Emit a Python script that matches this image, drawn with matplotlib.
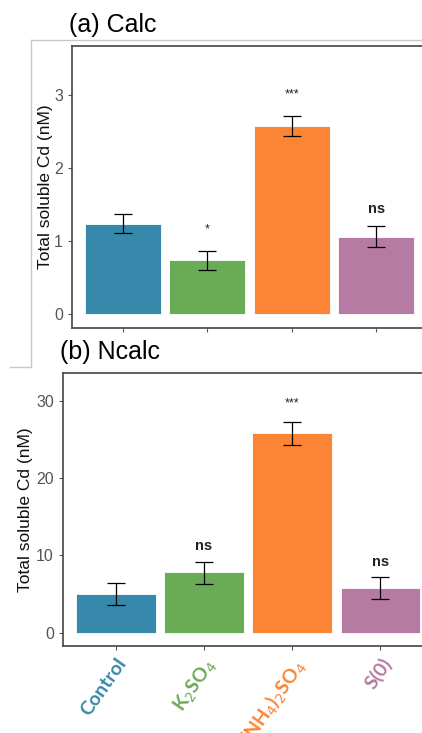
import matplotlib.pyplot as plt
from matplotlib.lines import Line2D
import numpy as np

plt.rcParams['font.family'] = ['Liberation Sans', 'DejaVu Sans']

# data
treatments = ['Control', 'K$_2$SO$_4$', '(NH$_4$)$_2$SO$_4$', 'S(0)']
colors = ['#3789ab', '#6aab56', '#fb8534', '#b57ba3']

calc_mean = [1.24, 0.74, 2.58, 1.06]
calc_lo = [1.11, 0.60, 2.44, 0.92]
calc_hi = [1.37, 0.87, 2.71, 1.21]
calc_sig = ['', '*', '***', 'ns']
calc_sig_y = [None, 1.16, 3.01, 1.44]

ncalc_mean = [5.0, 7.8, 25.8, 5.8]
ncalc_lo = [3.55, 6.3, 24.3, 4.3]
ncalc_hi = [6.4, 9.1, 27.2, 7.2]
ncalc_sig = ['', 'ns', '***', 'ns']
ncalc_sig_y = [None, 11.2, 29.7, 9.2]

fig = plt.figure(figsize=(4.22, 7.33), dpi=100)

# faint frame lines of the pasted panel
gray = '#c8c8c8'
fig.add_artist(Line2D([31/422, 1], [1 - 40/733, 1 - 40/733], color=gray, lw=1))
fig.add_artist(Line2D([31/422, 31/422], [1 - 40/733, 1 - 367/733], color=gray, lw=1))
fig.add_artist(Line2D([10/422, 31/422], [1 - 367/733, 1 - 367/733], color=gray, lw=1))


def panel(ax, mean, lo, hi, sig, sig_y, ylim, yticks, title, title_x, title_y, pad):
    x = np.arange(1, len(mean) + 1)
    ax.bar(x, mean, width=0.9, color=colors, edgecolor='white', linewidth=0.6, zorder=2)
    err = [np.array(mean) - np.array(lo), np.array(hi) - np.array(mean)]
    ax.errorbar(x, mean, yerr=err, fmt='none', ecolor='black', elinewidth=0.9,
                capsize=6.5, capthick=0.9, zorder=3)
    for xi, s, yy in zip(x, sig, sig_y):
        if s:
            ax.text(xi, yy, s, ha='center', va='center', fontsize=10.5 if s == 'ns' else 9,
                    color='#222222', fontweight='bold' if s == 'ns' else 'normal')
    ax.set_xlim(0.4, 4.6)
    ax.set_ylim(*ylim)
    ax.set_yticks(yticks)
    ax.set_ylabel('Total soluble Cd (nM)', fontsize=12.5, color='#111111', labelpad=pad)
    for sp in ax.spines.values():
        sp.set_color('#444444')
        sp.set_linewidth(1.2)
    ax.tick_params(axis='y', colors='#555555', labelsize=11.5, length=3, width=0.8)
    ax.tick_params(axis='x', colors='#555555', length=3, width=0.8)
    fig.text(title_x, title_y, title, fontsize=18, ha='left', va='center', color='black')


ax1 = fig.add_axes([72/422, 1 - 328/733, 355/422, 282/733])
panel(ax1, calc_mean, calc_lo, calc_hi, calc_sig, calc_sig_y, (-0.19, 3.67), [0, 1, 2, 3],
      '(a) Calc', 69/422, 1 - 25/733, 1)
ax1.set_xticks(np.arange(1, 5))
ax1.set_xticklabels([])

ax2 = fig.add_axes([63/422, 1 - 646/733, 370/422, 273/733])
panel(ax2, ncalc_mean, ncalc_lo, ncalc_hi, ncalc_sig, ncalc_sig_y, (-1.72, 33.6), [0, 10, 20, 30],
      '(b) Ncalc', 60/422, 1 - 352/733, 2)
ax2.set_xticks(np.arange(1, 5))
ax2.set_xticklabels(treatments, rotation=55, ha='right', va='top', rotation_mode='anchor',
                    fontsize=14, fontweight='bold', family=['Lato', 'DejaVu Sans'])
for lab, c in zip(ax2.get_xticklabels(), colors):
    lab.set_color(c)

fig.savefig('out.png', dpi=100)
